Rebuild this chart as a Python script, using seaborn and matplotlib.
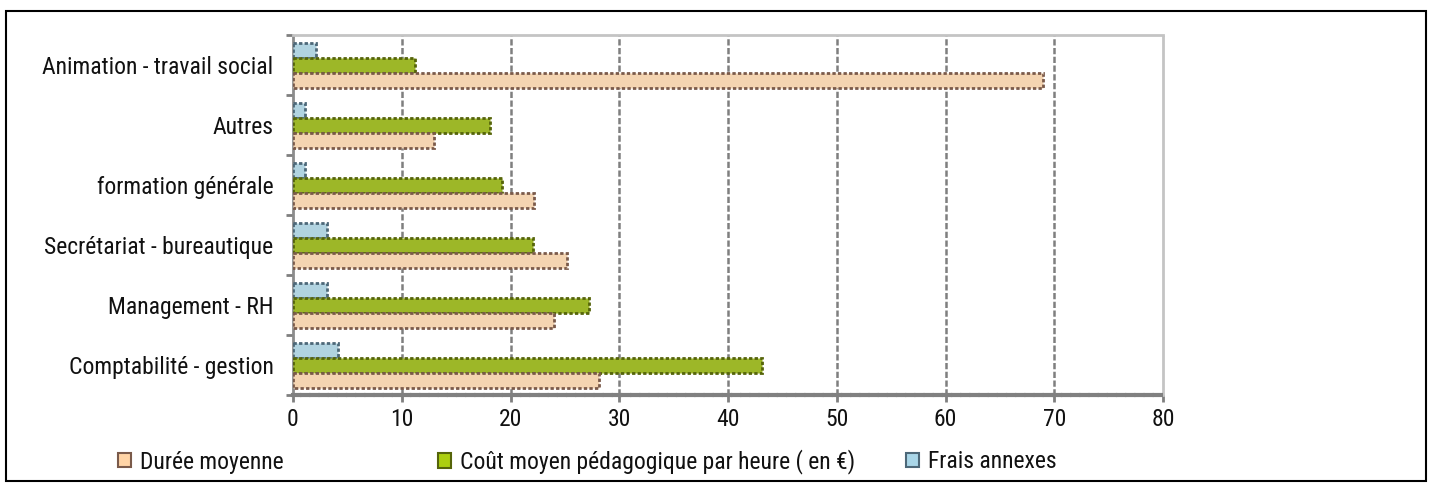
import pandas as pd
import numpy as np
import matplotlib
matplotlib.use("Agg")
import matplotlib.pyplot as plt
import matplotlib.patches as mpatches
from matplotlib import font_manager
import seaborn as sns

# --- Données ---
categories = [
    "Animation - travail social",
    "Autres",
    "formation générale",
    "Secrétariat - bureautique",
    "Management - RH",
    "Comptabilité - gestion",
]
duree_moyenne = [69, 13, 22.2, 25.2, 24, 28.1]
cout_moyen = [11.2, 18.1, 19.2, 22.1, 27.2, 43.1]
frais_annexes = [2.1, 1.1, 1.1, 3.1, 3.1, 4.1]

series_labels = [
    "Durée moyenne",
    "Coût moyen pédagogique par heure ( en €)",
    "Frais annexes",
]
x_ticks = [0, 10, 20, 30, 40, 50, 60, 70, 80]

face_cols = {series_labels[0]: "#FFD4A6", series_labels[1]: "#ACCF10", series_labels[2]: "#A9D6E8"}
edge_cols = {series_labels[0]: "#7a5a4a", series_labels[1]: "#55640a", series_labels[2]: "#4d6878"}

df = pd.DataFrame({
    "cat": categories * 3,
    "serie": [series_labels[0]] * 6 + [series_labels[1]] * 6 + [series_labels[2]] * 6,
    "val": duree_moyenne + cout_moyen + frais_annexes,
})

# --- police étroite si dispo ---
noms = {f.name for f in font_manager.fontManager.ttflist}
fam, fs = "Liberation Sans", 15.5
for cand, taille in [("Liberation Sans Narrow", 17), ("DejaVu Sans Condensed", 15),
                     ("Roboto Condensed", 17), ("Open Sans Condensed", 17)]:
    if cand in noms:
        fam, fs = cand, taille
        break

sns.set_style("white")
plt.rcParams["font.family"] = [fam, "DejaVu Sans"]

fig = plt.figure(figsize=(14.33, 4.87), dpi=100)
ax = fig.add_axes([293 / 1433, 1 - 395 / 487, 870 / 1433, 360 / 487])

# ordre : Frais en haut, Durée en bas dans chaque groupe
hue_order = [series_labels[2], series_labels[1], series_labels[0]]
sns.barplot(
    data=df, x="val", y="cat", hue="serie", hue_order=hue_order,
    order=categories, orient="h", width=0.75, legend=False,
    palette=face_cols, ax=ax, zorder=3,
)

# bordures des barres
for cont, lab in zip(ax.containers, hue_order):
    for b in cont:
        b.set_edgecolor(edge_cols[lab])
        b.set_linewidth(2)
        b.set_linestyle((0, (1.2, 0.8)))

ax.set_xlim(0, 80)
ax.set_xticks(x_ticks)
ax.set_xlabel("")
ax.set_ylabel("")
ax.grid(False)
for xv in x_ticks[1:-1]:
    ax.axvline(xv, color="#7f7f7f", lw=1.8, ls=(0, (2.5, 1)), zorder=1)

# axes
for s in ["top", "right"]:
    ax.spines[s].set_color("#c4c4c4")
    ax.spines[s].set_linestyle((0, (1.5, 1)))
    ax.spines[s].set_linewidth(2)
ax.spines["left"].set_color("#8c8c8c")
ax.spines["left"].set_linestyle((0, (1.5, 1)))
ax.spines["left"].set_linewidth(2)
ax.spines["bottom"].set_color("#808080")
ax.spines["bottom"].set_linestyle((0, (1.5, 0.7)))
ax.spines["bottom"].set_linewidth(3)

ax.tick_params(axis="y", which="major", length=0, pad=14, labelsize=fs, labelcolor="#111111")
ax.set_yticks(np.arange(-0.5, 6, 1), minor=True)
ax.tick_params(axis="y", which="minor", length=5, width=2, color="#7f7f7f", direction="out", left=True)
ax.tick_params(axis="x", which="major", length=5, width=2, color="#7f7f7f", direction="out",
               pad=4, labelsize=fs, labelcolor="#111111", bottom=True)

# --- légende (trois entrées placées séparément) ---
leg_x = [118 / 1433, 438 / 1433, 906 / 1433]
leg_y = 1 - 462 / 487
for lab, lx in zip(series_labels, leg_x):
    h = mpatches.Patch(facecolor=face_cols[lab], edgecolor=edge_cols[lab], linewidth=1.5)
    lg = fig.legend([h], [lab], loc="center left", bbox_to_anchor=(lx, leg_y),
                    frameon=False, fontsize=fs, handlelength=0.55, handleheight=0.55,
                    handletextpad=0.4, borderaxespad=0, borderpad=0)
    for t in lg.get_texts():
        t.set_color("#111111")

# cadre extérieur
fig.patches.append(mpatches.Rectangle((6 / 1433, 6 / 487), 1420 / 1433, 470 / 487,
                                      transform=fig.transFigure, fill=False,
                                      edgecolor="black", linewidth=1.5))

fig.savefig("out.png", dpi=100)
